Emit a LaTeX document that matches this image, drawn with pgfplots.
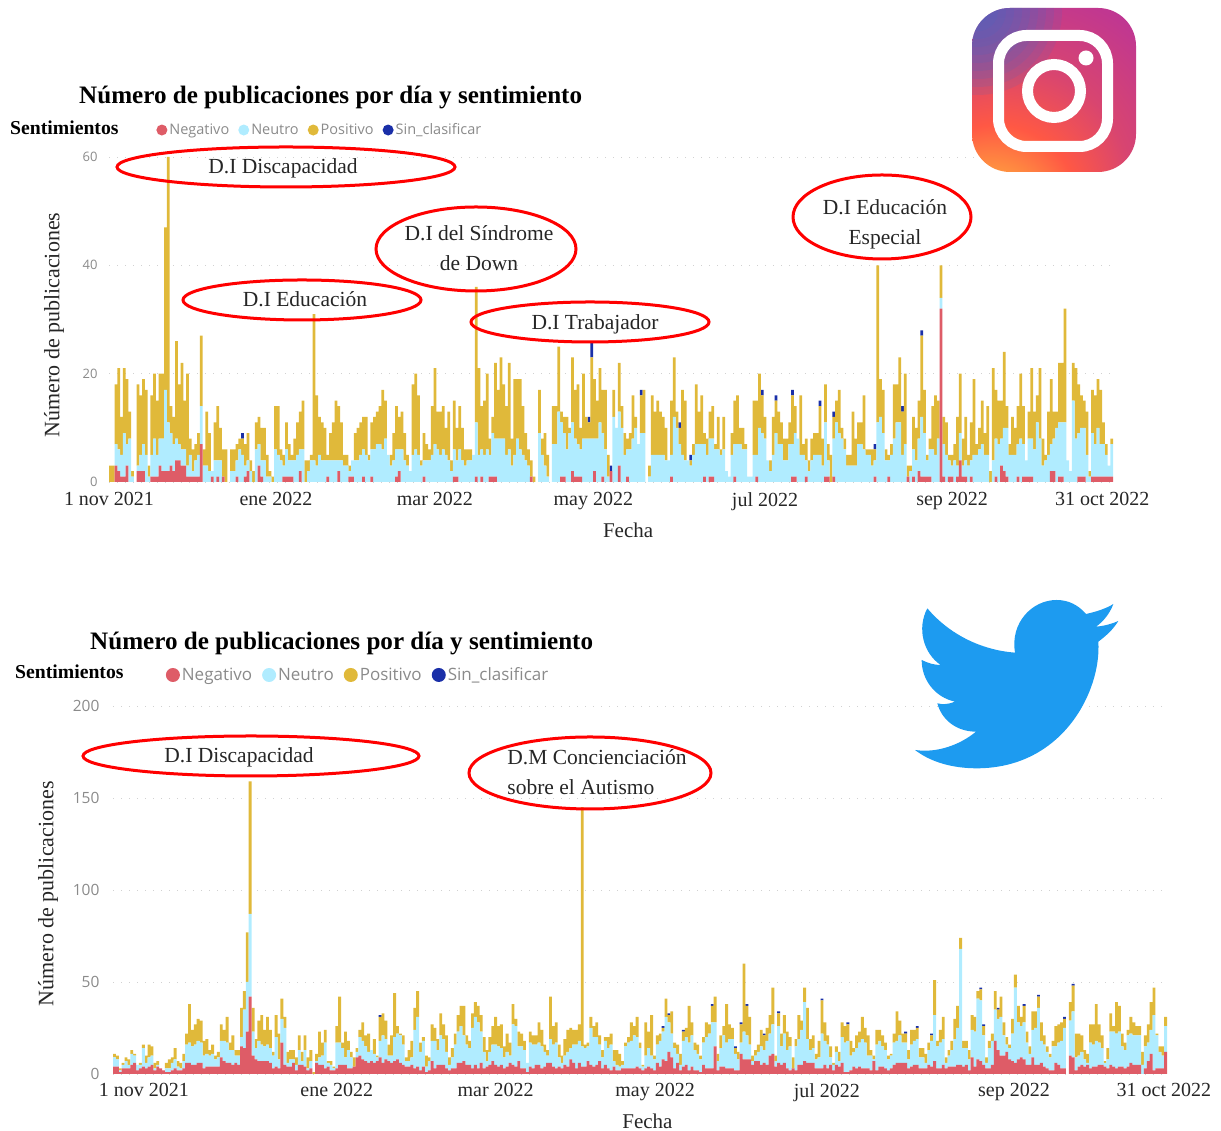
\documentclass[border=0pt]{standalone}
\usepackage{pgfplots}
\pgfplotsset{compat=1.18}
\usepackage{pgfplotstable}
\usepackage{fontspec}
\setmainfont{Liberation Serif}
\newfontfamily\uifont{Open Sans}
\definecolor{cneg}{HTML}{DE5C67}
\definecolor{cneu}{HTML}{B0ECFF}
\definecolor{cpos}{HTML}{E0B93A}
\definecolor{cbla}{HTML}{1A2FA8}
\definecolor{uigray}{HTML}{8A8A8A}
\definecolor{igA}{HTML}{FFDA50}
\definecolor{igB}{HTML}{FF9640}
\definecolor{igC}{HTML}{FF5844}
\definecolor{igD}{HTML}{D84570}
\definecolor{igE}{HTML}{B8329C}
\definecolor{igF}{HTML}{9030B8}
\definecolor{igG}{HTML}{3F6AC8}
\pgfdeclareradialshading{igshade}{\pgfpoint{-17bp}{-34bp}}{%
 color(0bp)=(igA);
 color(5bp)=(igA);
 color(11bp)=(igB);
 color(18bp)=(igC);
 color(27bp)=(igD);
 color(42bp)=(igE);
 color(53bp)=(igF);
 color(72bp)=(igF)}
\pgfplotstableread[row sep=crcr]{
n u p b\\
0 0 3 0\\0 0 3 0\\3 4 11 0\\2 4 15 0\\1 4 7 0\\1 8 12 0\\3 4 12 0\\0 8 5 0\\0 1 1 0\\0 0 0 0\\
2 1 15 0\\2 3 11 0\\2 5 12 0\\0 5 12 0\\0 1 2 0\\1 4 11 0\\1 7 12 0\\1 4 10 0\\3 5 12 0\\2 6 12 0\\
2 15 30 0\\2 9 49 0\\3 6 5 0\\2 5 5 0\\4 4 18 0\\4 3 11 0\\3 3 16 0\\3 3 9 0\\1 2 17 0\\1 4 3 0\\
1 1 4 0\\1 3 3 0\\1 4 4 0\\7 7 13 0\\0 3 3 0\\0 3 10 0\\0 2 7 0\\1 1 0 0\\0 4 7 0\\1 3 10 0\\
0 4 6 0\\1 0 5 0\\0 0 6 0\\0 0 0 0\\0 2 4 0\\0 2 4 0\\1 3 3 0\\0 6 2 0\\0 5 3 1\\1 2 4 0\\
2 2 5 0\\0 2 2 0\\0 0 2 0\\0 6 5 0\\3 4 5 0\\1 3 6 0\\0 4 6 0\\0 1 4 0\\0 1 1 0\\0 0 1 0\\
0 6 8 0\\0 5 9 0\\0 4 2 0\\1 2 2 0\\1 5 5 0\\1 3 3 0\\1 3 1 0\\0 4 4 0\\0 5 6 0\\2 4 7 0\\
0 6 9 0\\0 0 4 0\\0 2 2 0\\0 4 1 0\\0 4 27 0\\0 3 13 0\\0 5 7 0\\0 4 7 0\\0 4 6 0\\1 3 1 0\\
0 4 5 0\\0 4 7 0\\0 4 11 0\\2 2 10 0\\0 4 7 0\\0 3 2 0\\0 3 2 0\\1 1 1 0\\1 3 0 0\\0 4 5 0\\
0 4 6 0\\0 5 6 0\\1 5 6 0\\0 5 7 0\\0 4 1 0\\1 5 5 0\\0 6 6 0\\0 7 6 0\\0 7 7 0\\0 6 11 0\\
0 8 7 0\\0 5 0 0\\0 3 2 0\\0 4 5 0\\1 5 8 0\\2 4 6 0\\0 6 7 0\\0 4 5 0\\0 3 2 0\\0 2 0 0\\
0 5 13 0\\0 6 14 0\\0 5 11 0\\0 3 1 0\\1 3 5 0\\0 4 3 0\\0 4 2 0\\0 5 9 0\\0 7 14 0\\0 6 7 0\\
0 5 8 0\\0 6 8 0\\0 5 5 0\\0 4 9 0\\0 2 2 0\\1 5 9 0\\1 3 6 0\\0 6 8 0\\0 4 6 0\\0 3 3 0\\
0 4 2 0\\0 4 2 0\\0 5 0 0\\1 10 25 0\\0 5 16 0\\1 5 8 0\\0 5 10 0\\0 6 14 0\\1 4 3 0\\1 8 3 0\\
1 7 14 0\\0 8 9 0\\0 8 15 0\\0 8 10 0\\0 5 9 0\\0 6 16 0\\0 3 5 0\\0 5 14 0\\0 8 11 0\\0 6 13 0\\
0 5 9 0\\0 4 5 0\\0 3 3 0\\1 0 3 0\\0 0 1 0\\0 0 0 0\\0 9 8 0\\0 5 3 0\\0 3 6 0\\0 1 4 0\\
0 0 0 0\\0 7 7 0\\0 7 7 0\\0 13 12 0\\1 10 2 0\\1 8 3 0\\0 6 6 0\\0 9 1 0\\2 9 12 0\\1 7 9 0\\
1 6 11 0\\1 5 4 0\\0 8 12 0\\0 8 4 0\\0 8 3 1\\0 8 15 3\\2 6 11 0\\0 8 7 0\\0 11 10 0\\1 8 8 0\\
0 6 11 0\\0 1 4 0\\2 0 0 1\\0 12 5 0\\0 10 0 0\\3 10 9 0\\0 10 4 0\\0 5 4 0\\1 5 2 0\\0 6 3 0\\
0 8 8 0\\0 10 2 0\\0 7 0 0\\0 9 7 1\\0 9 8 0\\0 0 0 0\\0 1 2 0\\0 5 11 0\\0 5 8 0\\0 5 10 0\\
0 5 8 0\\0 5 7 0\\0 4 6 0\\0 4 0 0\\1 4 10 0\\0 12 11 0\\0 10 3 0\\0 7 3 1\\0 5 12 0\\0 4 11 0\\
0 4 0 0\\0 3 1 1\\0 5 2 0\\0 7 11 0\\0 7 6 0\\0 7 9 0\\1 6 2 0\\0 5 3 0\\1 7 5 0\\1 7 6 0\\
0 6 1 0\\0 6 6 0\\0 5 1 0\\0 6 6 0\\0 2 0 0\\0 1 0 0\\0 5 4 0\\1 6 8 0\\0 7 9 0\\0 7 3 0\\
0 6 4 0\\0 6 1 0\\0 1 0 0\\0 1 0 0\\0 5 10 0\\1 4 10 0\\0 10 10 0\\0 9 7 1\\0 8 4 0\\0 4 0 0\\
0 2 2 0\\0 5 7 0\\0 9 6 1\\0 7 6 0\\0 7 4 0\\0 4 4 0\\0 4 4 0\\0 7 4 0\\1 6 9 1\\1 8 5 0\\
0 8 0 0\\0 5 11 0\\0 5 2 0\\1 3 4 0\\0 2 2 0\\0 4 4 0\\0 5 4 0\\0 5 4 0\\0 5 9 1\\0 3 5 0\\
1 10 7 0\\1 3 3 0\\0 0 5 0\\1 7 4 1\\0 11 4 0\\0 9 8 0\\0 8 2 0\\0 6 2 0\\0 3 2 0\\0 3 2 0\\
0 3 10 0\\0 3 5 0\\0 7 4 0\\0 7 4 0\\0 6 10 0\\0 5 1 0\\0 5 1 0\\0 3 3 0\\1 3 2 1\\0 11 29 0\\
0 12 7 0\\0 9 8 0\\0 4 2 0\\1 3 1 0\\0 5 2 0\\0 8 10 0\\0 11 7 0\\0 11 12 0\\0 5 8 1\\0 7 13 0\\
1 0 2 0\\0 2 1 0\\1 5 6 0\\0 4 6 0\\2 6 7 0\\1 11 15 1\\1 8 8 0\\1 3 1 0\\1 5 2 0\\0 6 8 0\\
0 5 11 0\\0 8 7 0\\32 2 6 0\\1 6 5 0\\0 5 6 0\\1 3 1 0\\1 2 2 0\\0 4 3 0\\1 2 9 0\\4 5 11 0\\
1 2 5 0\\1 3 8 0\\0 3 2 0\\1 3 7 0\\0 5 14 0\\0 5 2 0\\0 6 4 0\\0 7 8 0\\0 5 4 0\\0 5 9 0\\
0 0 2 0\\0 4 17 0\\1 7 9 0\\0 7 8 0\\3 5 7 0\\2 8 14 0\\1 9 4 0\\0 5 2 0\\0 5 7 0\\0 5 5 0\\
1 6 7 0\\0 8 12 0\\1 6 7 0\\1 3 0 0\\1 7 5 0\\1 7 13 0\\0 6 7 0\\0 11 5 0\\0 8 13 0\\0 3 5 0\\
0 4 1 0\\0 5 8 0\\2 5 12 0\\2 6 5 0\\0 10 3 0\\1 10 11 0\\1 10 11 0\\0 11 21 0\\0 4 0 0\\0 2 0 0\\
0 15 7 0\\0 8 13 0\\1 8 9 0\\1 9 6 0\\1 9 5 0\\0 5 8 0\\0 1 1 0\\1 8 8 0\\1 6 9 0\\1 9 9 0\\
1 6 10 0\\1 6 4 0\\1 4 2 0\\1 2 0 0\\1 6 1 0\\
}\igdata
\pgfplotstableread[row sep=crcr]{
n u p b\\
4 5 2 0\\4 4 2 0\\1 1 1 0\\3 2 1 0\\3 4 2 0\\3 2 3 0\\5 6 2 0\\6 4 1 0\\2 3 0 0\\3 2 1 0\\
4 10 2 0\\3 3 4 0\\4 5 7 0\\5 5 5 0\\2 1 3 0\\4 1 2 0\\3 0 0 0\\2 0 0 0\\1 2 3 0\\1 2 5 0\\
2 4 3 0\\3 5 6 0\\2 2 3 0\\2 1 3 0\\3 4 4 0\\6 10 6 0\\6 11 21 0\\5 10 9 0\\5 11 11 0\\6 12 12 0\\
6 11 12 0\\3 7 8 0\\4 7 8 0\\4 6 3 0\\4 7 5 0\\4 4 2 0\\4 5 3 0\\9 9 9 0\\7 11 6 0\\6 11 14 0\\
6 7 4 0\\5 8 8 0\\6 4 3 0\\5 5 3 0\\15 5 16 0\\14 21 10 0\\23 27 27 0\\42 45 72 0\\10 13 13 0\\8 6 5 0\\
7 11 11 0\\7 9 16 0\\7 8 9 0\\7 9 15 0\\6 8 10 0\\3 7 2 0\\4 16 12 0\\3 5 14 0\\17 13 11 0\\5 20 6 0\\
4 2 6 0\\4 4 5 0\\6 2 5 0\\2 3 4 0\\5 8 8 0\\5 2 5 0\\4 9 8 0\\2 1 6 0\\3 4 6 0\\0 0 1 0\\
6 1 4 0\\5 4 14 0\\5 5 7 0\\3 14 7 0\\4 2 1 0\\2 3 2 0\\2 1 1 0\\3 14 9 0\\5 12 25 0\\5 9 3 0\\
5 4 14 0\\3 10 5 0\\3 6 3 0\\4 0 5 0\\9 3 2 0\\10 10 4 0\\8 10 10 0\\7 8 6 0\\6 6 10 0\\7 6 0 0\\
6 5 8 0\\7 2 1 0\\9 9 13 1\\6 15 12 0\\8 11 10 0\\7 3 6 0\\6 4 11 0\\7 13 24 0\\8 14 4 0\\6 15 1 0\\
5 11 5 0\\4 3 2 0\\4 3 6 0\\5 4 9 0\\3 21 12 0\\4 27 14 0\\2 10 5 0\\4 14 2 0\\1 3 6 0\\2 5 2 0\\
7 11 9 0\\3 15 7 0\\5 8 6 0\\5 16 12 0\\5 14 8 0\\3 9 9 0\\2 3 4 0\\3 6 5 0\\3 13 6 0\\6 17 9 0\\
6 20 11 0\\7 14 16 0\\5 11 5 0\\5 9 4 0\\3 22 8 0\\5 26 8 0\\3 25 9 0\\6 17 9 0\\3 9 8 0\\4 3 6 0\\
5 7 8 0\\7 9 10 0\\5 11 15 0\\4 11 11 0\\5 9 13 0\\3 6 6 0\\4 8 10 0\\6 4 7 0\\5 22 11 0\\4 22 4 0\\
7 8 8 0\\3 12 7 0\\3 10 5 0\\1 5 0 0\\4 13 6 0\\3 13 5 0\\5 11 5 0\\5 12 11 0\\3 12 9 0\\4 8 4 0\\
6 4 3 0\\6 13 23 0\\4 12 10 0\\3 14 11 0\\4 5 7 0\\3 3 4 0\\5 5 9 0\\4 8 12 0\\8 6 11 0\\6 10 8 0\\
3 13 8 0\\6 12 9 0\\4 11 130 0\\4 10 2 0\\7 8 2 0\\5 20 6 0\\4 16 6 0\\5 15 8 0\\7 9 5 0\\3 6 4 0\\
5 13 2 0\\3 11 6 0\\2 14 6 0\\4 3 6 0\\2 3 8 0\\2 2 7 0\\3 2 2 0\\3 12 2 0\\3 14 3 0\\3 15 10 0\\
3 18 5 0\\4 16 11 0\\3 11 3 0\\2 2 1 0\\3 7 18 0\\4 10 9 0\\3 7 22 0\\2 6 2 0\\6 10 5 0\\4 14 4 0\\
8 15 2 1\\7 24 10 0\\12 16 4 1\\9 13 12 0\\3 11 3 0\\6 5 5 0\\2 3 6 0\\4 14 5 1\\5 15 5 0\\2 15 20 0\\
4 17 7 0\\2 11 4 0\\2 9 5 0\\1 7 2 0\\5 12 3 0\\3 17 8 0\\3 19 5 0\\3 25 9 1\\15 13 14 0\\2 5 4 0\\
4 10 7 0\\4 17 5 0\\3 14 21 0\\3 16 8 0\\3 16 6 0\\2 9 3 1\\2 6 4 0\\11 6 10 1\\8 15 37 0\\8 13 16 1\\
8 8 15 0\\5 2 3 0\\7 3 3 0\\7 5 4 0\\5 10 9 0\\6 7 8 1\\5 13 7 0\\10 12 10 0\\11 16 20 0\\4 3 3 0\\
6 20 7 1\\5 10 7 0\\6 16 10 0\\3 10 10 0\\2 13 5 0\\3 0 6 0\\2 13 4 0\\5 14 13 0\\5 19 5 0\\7 32 8 0\\
6 13 17 0\\6 7 6 0\\6 8 7 0\\3 5 3 0\\3 6 9 0\\3 19 18 1\\5 13 10 0\\3 13 5 0\\5 4 6 0\\2 3 1 0\\
5 7 3 0\\4 3 5 0\\6 14 8 0\\1 16 9 0\\1 17 9 1\\2 8 8 0\\4 8 2 0\\3 11 7 0\\4 13 6 0\\3 16 12 0\\
3 14 8 0\\3 7 11 0\\2 8 3 0\\7 1 2 0\\2 14 8 0\\4 14 6 0\\4 11 6 0\\3 10 4 0\\2 6 2 0\\3 7 1 0\\
5 12 5 0\\6 12 16 0\\6 15 8 0\\6 11 5 0\\6 11 5 1\\3 5 5 0\\4 12 8 0\\5 13 6 0\\5 14 6 1\\3 6 5 0\\
3 6 5 0\\3 3 5 0\\5 8 4 0\\4 14 3 1\\7 25 19 0\\3 12 3 0\\3 14 7 0\\5 14 12 0\\3 3 3 0\\4 6 3 0\\
4 9 5 0\\4 15 11 0\\5 20 12 0\\5 63 6 0\\4 10 4 0\\5 9 4 0\\2 6 5 0\\9 15 8 0\\4 19 8 0\\8 33 4 0\\
7 33 6 1\\5 16 5 1\\3 3 3 0\\3 11 4 0\\5 13 4 0\\18 17 10 0\\13 17 5 1\\10 21 11 0\\10 11 7 0\\12 4 4 0\\
8 6 2 0\\7 15 8 0\\6 41 7 0\\8 20 9 0\\9 17 5 0\\8 20 9 1\\5 12 6 0\\5 6 4 0\\9 15 10 0\\5 20 9 0\\
5 31 6 1\\6 12 10 0\\4 12 5 0\\3 9 3 0\\2 7 2 0\\2 13 3 0\\6 9 11 0\\5 12 10 0\\3 15 10 0\\3 22 5 1\\
0 0 0 0\\10 19 10 0\\9 25 14 1\\2 7 13 0\\4 6 12 0\\5 7 9 0\\4 4 5 0\\5 1 5 0\\3 14 10 0\\4 12 11 0\\
4 14 20 0\\5 12 10 0\\5 9 7 0\\4 2 1 0\\3 5 6 0\\5 18 10 0\\4 19 3 0\\3 19 17 0\\4 19 14 0\\4 11 7 0\\
3 10 4 0\\4 17 3 0\\6 16 9 0\\5 16 7 0\\5 16 5 0\\5 16 5 0\\0 5 7 0\\3 12 6 0\\7 10 10 0\\11 13 15 0\\
2 30 15 0\\3 18 1 0\\3 9 3 0\\3 7 5 0\\12 14 5 0\\
}\twdata
\pgfplotsset{
 ds/.style={
  ybar stacked, scale only axis, bar width=1,
  axis line style={draw=none}, major tick length=0pt,
  ymajorgrids, grid style={color=black!18,line width=0.9pt,dash pattern=on 1pt off 7pt},
  xmin=-0.5, xmax=364.5, ymin=0,
  xticklabel style={font=\fontsize{20}{22}\selectfont,color=black!85},
  xlabel style={font=\fontsize{21}{23}\selectfont,color=black!85},
  ylabel style={font=\fontsize{22}{24}\selectfont,color=black!85},
  /pgf/number format/assume math mode=true,
  legend image code/.code={\fill[##1] (0pt,0pt) circle (#1);},
 },
}
\begin{document}
\begin{tikzpicture}
\path[use as bounding box] (0,0) rectangle (1221pt,1131pt);
\begin{axis}[ds=5.5pt, at={(109pt,649pt)}, anchor=south west, width=1004pt, height=325pt,
  ymax=60, ytick={0,20,40,60},
  yticklabel style={font=\uifont\fontsize{13}{15}\selectfont,text=uigray,xshift=-8pt},
  xtick={-0.5,60.2,118,175.6,238,306,360.6},
  xticklabels={1 nov 2021,ene 2022,mar 2022,may 2022,jul 2022,sep 2022,31 oct 2022},
  xticklabel style={yshift=-7pt},
  xlabel={Fecha}, xlabel style={at={(axis description cs:0.517,0)},anchor=north,yshift=-37pt},
  ylabel={Número de publicaciones}, ylabel style={at={(axis description cs:-0.0548,0.483)},anchor=center},
  legend columns=4,
  legend style={at={(axis description cs:0.047,1.083)},anchor=west,draw=none,fill=none,
    font=\uifont\fontsize{14.5}{16}\selectfont,text=uigray,inner sep=0pt,
    /tikz/every even column/.append style={column sep=7pt},
    nodes={inner xsep=2pt}},
]
\addplot[fill=cneg,draw=none] table[x expr=\coordindex,y=n]{\igdata};
\addplot[fill=cneu,draw=none] table[x expr=\coordindex,y=u]{\igdata};
\addplot[fill=cpos,draw=none] table[x expr=\coordindex,y=p]{\igdata};
\addplot[fill=cbla,draw=none] table[x expr=\coordindex,y=b]{\igdata};
\legend{Negativo,Neutro,Positivo,Sin\_clasificar}
\end{axis}
\begin{axis}[ds=7pt, at={(113pt,57pt)}, anchor=south west, width=1054pt, height=368pt,
  ymax=200, ytick={0,50,100,150,200},
  yticklabel style={font=\uifont\fontsize{15.5}{17}\selectfont,text=uigray,xshift=-10pt},
  xtick={10.2,77,132,187.2,246.7,311.5,363.4},
  xticklabels={1 nov 2021,ene 2022,mar 2022,may 2022,jul 2022,sep 2022,31 oct 2022},
  xticklabel style={yshift=-6pt},
  xlabel={Fecha}, xlabel style={at={(axis description cs:0.507,0)},anchor=north,yshift=-40pt,inner sep=0pt},
  ylabel={Número de publicaciones}, ylabel style={at={(axis description cs:-0.0617,0.49)},anchor=center},
  legend columns=4,
  legend style={at={(axis description cs:0.05,1.0)},anchor=west,draw=none,fill=none,
    yshift=31pt,
    font=\uifont\fontsize{17}{19}\selectfont,text=uigray,inner sep=0pt,
    /tikz/every even column/.append style={column sep=8pt},
    nodes={inner xsep=2pt}},
]
\addplot[fill=cneg,draw=none] table[x expr=\coordindex,y=n]{\twdata};
\addplot[fill=cneu,draw=none] table[x expr=\coordindex,y=u]{\twdata};
\addplot[fill=cpos,draw=none] table[x expr=\coordindex,y=p]{\twdata};
\addplot[fill=cbla,draw=none] table[x expr=\coordindex,y=b]{\twdata};
\legend{Negativo,Neutro,Positivo,Sin\_clasificar}
\end{axis}
% titles
\node[font=\bfseries\fontsize{25.1}{27}\selectfont,anchor=base west,inner sep=0pt] at (79pt,1027pt) {Número de publicaciones por día y sentimiento};
\node[font=\bfseries\fontsize{25.1}{27}\selectfont,anchor=base west,inner sep=0pt] at (90pt,481pt) {Número de publicaciones por día y sentimiento};
\node[font=\bfseries\fontsize{19.7}{21}\selectfont,anchor=base west,inner sep=0pt] at (10pt,996pt) {Sentimientos};
\node[font=\bfseries\fontsize{19.7}{21}\selectfont,anchor=base west,inner sep=0pt] at (15pt,452pt) {Sentimientos};
% annotation ellipses
\tikzset{ann/.style={draw=red,line width=3pt},lbl/.style={font=\fontsize{21.5}{30}\selectfont,align=center,color=black!85}}
\draw[ann] (286pt,964pt) ellipse (169pt and 20pt);
\node[lbl] at (283pt,963pt) {D.I Discapacidad};
\draw[ann] (302pt,831pt) ellipse (119pt and 20pt);
\node[lbl] at (305pt,832pt) {D.I Educación};
\draw[ann] (476pt,882pt) ellipse (100pt and 42pt);
\node[lbl] at (479pt,883pt) {D.I del Síndrome\\de Down};
\draw[ann] (590pt,809pt) ellipse (119pt and 20pt);
\node[lbl] at (595pt,807pt) {D.I Trabajador};
\draw[ann] (882pt,914pt) ellipse (89pt and 42pt);
\node[lbl] at (885pt,907pt) {D.I Educación\\Especial};
\draw[ann] (251pt,375pt) ellipse (168pt and 20pt);
\node[lbl] at (239pt,374pt) {D.I Discapacidad};
\draw[ann] (590pt,358pt) ellipse (121pt and 36pt);
\node[lbl,align=left] at (597pt,359pt) {D.M Concienciación\\sobre el Autismo};
% Instagram logo
\begin{scope}
\clip[rounded corners=38pt] (972pt,959pt) rectangle (1136pt,1123pt);
\shade[shading=igshade] (938pt,925pt) rectangle (1170pt,1157pt);
\foreach \r in {12,20,...,84} {\fill[igG,opacity=0.13] (978pt,1120pt) circle (\r pt);}
\end{scope}
\draw[white,line width=11pt,rounded corners=28pt] (998.5pt,984.5pt) rectangle (1107.5pt,1095.5pt);
\draw[white,line width=11pt] (1054pt,1040pt) circle (26.5pt);
\fill[white] (1086pt,1073pt) circle (7.5pt);
% Twitter bird
\begin{scope}[shift={(900pt,541pt)},x=0.3333pt,y=-0.3333pt]
\fill[color={rgb,255:red,29;green,155;blue,240}]
 (558,72) .. controls (590,65) and (620,55) .. (640,42)
 .. controls (630,70) and (610,95) .. (588,110)
 .. controls (612,108) and (635,102) .. (655,93)
 .. controls (640,118) and (618,138) .. (595,155)
 .. controls (605,300) and (490,535) .. (230,535)
 .. controls (155,535) and (90,515) .. (45,480)
 .. controls (110,490) and (180,465) .. (228,425)
 .. controls (170,425) and (125,390) .. (112,340)
 .. controls (130,345) and (148,342) .. (165,335)
 .. controls (105,322) and (65,270) .. (65,210)
 .. controls (85,220) and (103,225) .. (122,225)
 .. controls (70,190) and (50,115) .. (82,55)
 .. controls (145,130) and (240,180) .. (345,188)
 .. controls (330,100) and (395,30) .. (470,30)
 .. controls (505,30) and (535,45) .. (558,72) -- cycle;
\end{scope}
\end{tikzpicture}
\end{document}
